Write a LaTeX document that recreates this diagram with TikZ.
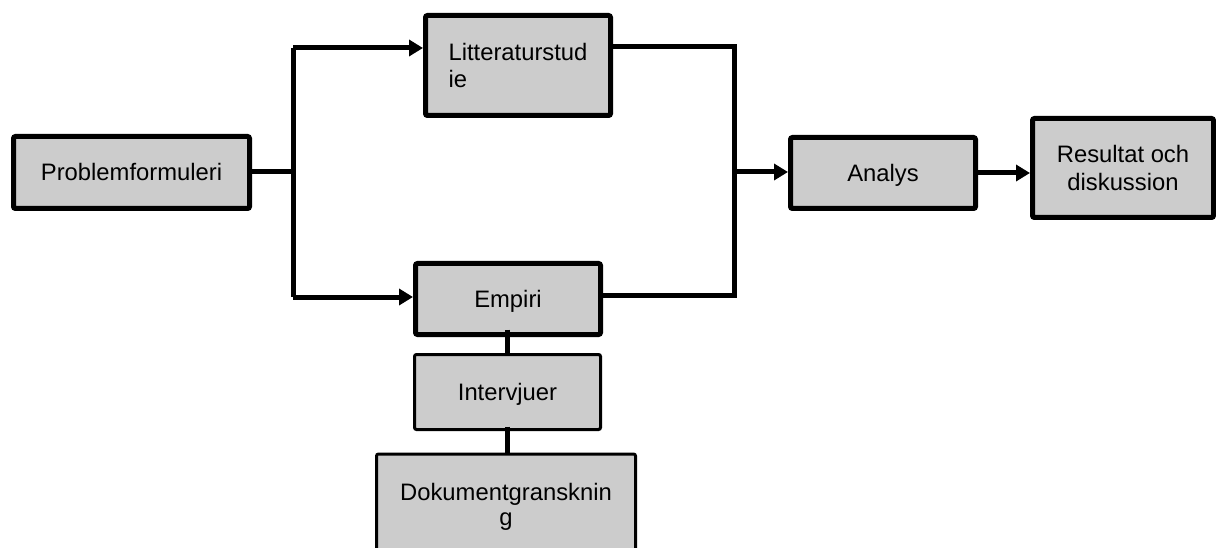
\documentclass[tikz,border=0pt]{standalone}
\usepackage{fontspec}
\setmainfont{Liberation Sans}
\usetikzlibrary{arrows.meta}
\definecolor{boxgray}{HTML}{CCCCCC}
\begin{document}
\begin{tikzpicture}[x=1pt,y=-1pt,
  box/.style={draw=black, fill=boxgray, line width=5pt, rounded corners=2pt,
    inner sep=0pt, align=center, font=\fontsize{23.8}{27}\selectfont},
  thinbox/.style={box, line width=3pt},
  oneline/.style={text height=17pt, text depth=0pt},
  conn/.style={line width=5pt, line join=miter},
  arr/.style={conn, -{Triangle[length=14pt,width=16pt]}}]

\clip (0,0) rectangle (1216,548);

% process boxes
\node[box, oneline, minimum width=236pt, minimum height=72pt] (prob) at (131.5,172.5) {Problemformuleri};
\node[box, align=left, minimum width=185pt, minimum height=100pt] (litt) at (518,65.5) {Litteraturstud\\ie};
\node[box, oneline, minimum width=185pt, minimum height=71pt] (emp) at (508,299) {Empiri};
\node[box, oneline, minimum width=185pt, minimum height=71pt] (ana) at (883,173) {Analys};
\node[box, font=\fontsize{23.8}{28}\selectfont, minimum width=181pt, minimum height=99pt] (res) at (1123,168) {Resultat och\\diskussion};
\node[thinbox, oneline, minimum width=186pt, minimum height=75pt] (int) at (507.5,392) {Intervjuer};
\node[thinbox, font=\fontsize{23.8}{25}\selectfont, minimum width=259pt, minimum height=105pt] (dok) at (506,506.5) {Dokumentgransknin\\g};

% branching points
\coordinate (jl)  at (293,172);
\coordinate (jlt) at (293,48);
\coordinate (jlb) at (293,297);
\coordinate (jrt) at (734,47);
\coordinate (jrm) at (734,172);
\coordinate (jrb) at (734,295);
\coordinate (stub) at (507,0);

% split after problem formulation
\draw[conn] (prob.east |- jl) -- (jl);
\draw[conn] (jlt) -- (jlb);
\draw[arr] (jlt) -- (litt.west |- jlt);
\draw[arr] (jlb) -- (emp.west |- jlb);

% merge into analysis
\draw[conn] (litt.east |- jrt) -- (jrt) -- (jrb) -- (emp.east |- jrb);
\draw[arr] (jrm) -- (ana.west |- jrm);
\draw[arr] (ana.east) -- (res.west |- ana.east);

% empirical methods
\draw[conn] ([yshift=7.5pt]stub |- emp.south) -- (stub |- int.north);
\draw[conn] ([yshift=4.5pt]stub |- int.south) -- ([yshift=-1.5pt]stub |- dok.north);
\end{tikzpicture}
\end{document}
